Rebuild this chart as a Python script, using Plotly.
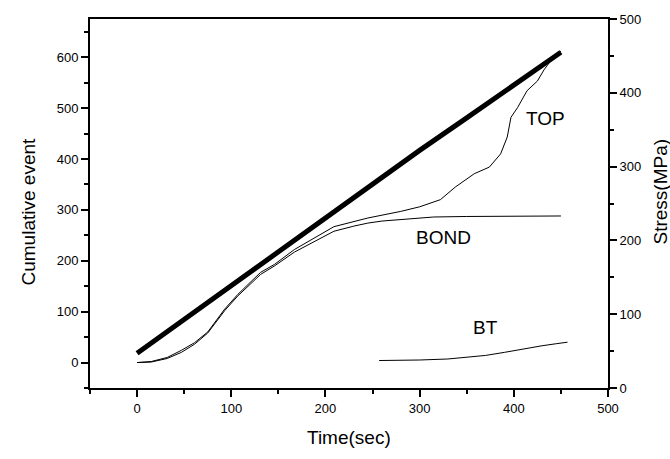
import plotly.graph_objects as go

# Stress (right axis, MPa)
stress_t = [0, 50, 100, 150, 200, 250, 300, 350, 400, 450]
stress_v = [47, 93, 140, 186, 232, 277, 322, 366, 411, 455]

# Cumulative events, TOP
top_t = [0, 15, 32, 47, 61, 75, 93, 107, 131, 146, 167, 188, 209, 245, 280, 300,
         322, 338, 358, 374, 386, 393, 397, 404, 414, 425, 432, 440, 450]
top_v = [0, 2, 10, 24, 39, 60, 105, 134, 177, 193, 222, 245, 267, 284, 297, 306,
         320, 345, 371, 384, 410, 443, 482, 501, 534, 553, 575, 595, 612]

# Cumulative events, BOND
bond_t = [0, 15, 32, 47, 61, 75, 93, 107, 131, 146, 167, 188, 209, 230, 245, 260,
          280, 300, 315, 350, 400, 450]
bond_v = [0, 1, 8, 20, 36, 58, 102, 131, 173, 190, 217, 238, 258, 268, 274, 278,
          281, 284, 286, 287, 288, 288]

# Cumulative events, BT
bt_t = [257, 280, 300, 330, 350, 370, 390, 410, 430, 445, 457]
bt_v = [4, 4, 5, 7, 10, 14, 20, 27, 33, 37, 40]

labels = [("TOP", 434, 479), ("BOND", 325, 245), ("BT", 370, 68)]

FONT = "Liberation Sans, Arial, sans-serif"

fig = go.Figure()
fig.add_trace(go.Scatter(x=top_t, y=top_v, mode="lines",
                         line=dict(color="black", width=1), showlegend=False))
fig.add_trace(go.Scatter(x=bond_t, y=bond_v, mode="lines",
                         line=dict(color="black", width=1), showlegend=False))
fig.add_trace(go.Scatter(x=bt_t, y=bt_v, mode="lines",
                         line=dict(color="black", width=1), showlegend=False))
fig.add_trace(go.Scatter(x=stress_t, y=stress_v, mode="lines", yaxis="y2",
                         line=dict(color="black", width=5), showlegend=False))

for txt, xx, yy in labels:
    fig.add_annotation(x=xx, y=yy, text=txt, showarrow=False,
                       font=dict(family=FONT, size=19, color="black"))

title_font = dict(family=FONT, size=19, color="black")
fig.add_annotation(text="Cumulative event", xref="paper", yref="paper", x=0, y=0.5,
                   xshift=-62, yshift=-8, textangle=-90, showarrow=False,
                   xanchor="center", yanchor="middle", font=title_font)
fig.add_annotation(text="Stress(MPa)", xref="paper", yref="paper", x=1, y=0.5,
                   xshift=52, yshift=12, textangle=-90, showarrow=False,
                   xanchor="center", yanchor="middle", font=title_font)
fig.add_annotation(text="Time(sec)", xref="paper", yref="paper", x=0.5, y=0,
                   yshift=-49, showarrow=False,
                   xanchor="center", yanchor="middle", font=title_font)

minor = dict(dtick=50, ticklen=4, ticks="outside", tickcolor="black", tickwidth=2)
axis_common = dict(showline=True, linecolor="black", linewidth=2,
                   ticks="outside", ticklen=7, tickwidth=2, tickcolor="black",
                   showgrid=False, zeroline=False, minor=minor,
                   tickfont=dict(family=FONT, size=13, color="black"))

fig.update_layout(
    width=670, height=459,
    margin=dict(l=90, r=62, t=16, b=71),
    paper_bgcolor="white", plot_bgcolor="white",
    xaxis=dict(range=[-50, 500], dtick=100, mirror=True, **axis_common),
    yaxis=dict(range=[-50, 675], dtick=100, **axis_common),
    yaxis2=dict(range=[0, 500], dtick=100, overlaying="y", side="right", **axis_common),
)

fig.write_html("out.html", config={"displayModeBar": False},
               post_script="document.body.style.margin='0';")
